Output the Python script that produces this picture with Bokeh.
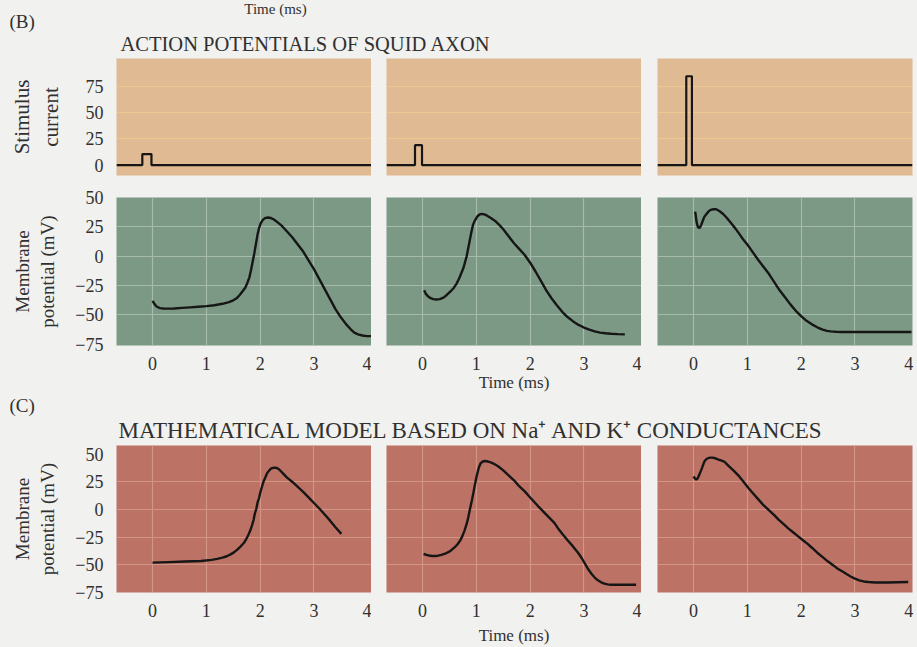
from bokeh.plotting import figure
from bokeh.layouts import column, row
from bokeh.models import Range1d, FixedTicker, Label
from bokeh.embed import file_html
from bokeh.resources import INLINE

# ---------------- data ----------------
time_ticks = [0, 1, 2, 3, 4]
stim_ticks = [0, 25, 50, 75]
mv_ticks = [-75, -50, -25, 0, 25, 50]

# stimulus current traces (step pulses)
stim1_t = [-0.67, -0.19, -0.19, -0.02, -0.02, 4.07]
stim1_i = [0, 0, 10.5, 10.5, 0, 0]
stim2_t = [-0.67, -0.14, -0.14, -0.01, -0.01, 4.07]
stim2_i = [0, 0, 19, 19, 0, 0]
stim3_t = [-0.67, -0.135, -0.135, -0.03, -0.03, 4.07]
stim3_i = [0, 0, 85, 85, 0, 0]

# recorded squid axon action potentials (mV)
axon1_t = [0.00, 0.04, 0.08, 0.14, 0.2, 0.3, 0.4, 0.55, 0.7, 0.85, 1.0, 1.15, 1.3, 1.42, 1.5, 1.57,
           1.62, 1.67, 1.72, 1.76, 1.8, 1.83, 1.86, 1.89, 1.92, 1.95, 1.98, 2.01, 2.05, 2.09,
           2.14, 2.2, 2.25, 2.32, 2.4, 2.5, 2.6, 2.7, 2.8, 2.9, 3.0, 3.1, 3.2, 3.3, 3.4,
           3.5, 3.6, 3.68, 3.75, 3.82, 3.9, 3.98, 4.07]
axon1_v = [-38, -41, -43, -44.2, -44.5, -44.6, -44.5, -44, -43.5, -43, -42.5, -41.7, -40.5, -39, -37.5, -35.5,
           -33, -30, -27, -23, -18, -12, -5, 2, 10, 18, 24, 28, 31, 32.5,
           33, 32.5, 31.5, 29, 26, 21, 16, 10, 4, -3.5, -11, -19.5, -28, -36.5, -45,
           -52, -58, -62, -65, -66.5, -67.5, -68, -68]
axon2_t = [0.03, 0.06, 0.1, 0.15, 0.2, 0.26, 0.32, 0.39, 0.45, 0.52, 0.58, 0.63, 0.68, 0.72, 0.76,
           0.79, 0.82, 0.85, 0.88, 0.91, 0.94, 0.98, 1.02, 1.06, 1.1, 1.15, 1.2, 1.27, 1.35,
           1.42, 1.5, 1.6, 1.7, 1.8, 1.9, 2.0, 2.1, 2.2, 2.3, 2.4, 2.5, 2.6, 2.7, 2.8, 2.9,
           3.0, 3.1, 3.2, 3.3, 3.4, 3.5, 3.63, 3.76]
axon2_v = [-29, -32, -34, -35.7, -36.5, -36.8, -36.5, -35.2, -33, -30, -27, -23.5, -19, -14.5, -10,
           -5, 0, 7, 14, 21, 27, 31, 34, 35.5, 36, 35.6, 34.5, 32.5, 30,
           27, 23, 17, 11, 6, 1, -5.5, -13, -21, -29, -36, -42, -47.5, -52, -55.5, -58.5,
           -60.7, -62.5, -64, -65, -65.6, -66, -66.3, -66.5]
axon3_t = [0.03, 0.04, 0.05, 0.065, 0.08, 0.1, 0.12, 0.145, 0.17, 0.2, 0.24, 0.28, 0.32, 0.37,
           0.42, 0.48, 0.55, 0.62, 0.7, 0.78, 0.85, 0.92, 1.0, 1.1, 1.2, 1.3, 1.4, 1.5, 1.6,
           1.7, 1.8, 1.9, 2.0, 2.1, 2.2, 2.3, 2.4, 2.48, 2.55, 2.65, 2.75, 3.0, 3.5, 4.05]
axon3_v = [38, 35, 31, 27.5, 25, 24, 24.5, 27, 30, 33.5, 36, 38.2, 39.5, 40,
           40, 38.5, 36, 32.5, 28, 23.5, 19, 14.5, 10, 3.5, -3, -9, -15, -22, -29,
           -35, -41, -46.5, -51, -55, -58, -60.5, -62.5, -63.5, -64, -64.3, -64.5, -64.5, -64.5, -64.5]

# Hodgkin-Huxley model action potentials (mV)
model1_t = [0.0, 0.3, 0.6, 0.9, 1.1, 1.2, 1.3, 1.38, 1.45, 1.52, 1.58, 1.64, 1.7, 1.74, 1.78,
            1.82, 1.85, 1.88, 1.9, 1.93, 1.95, 1.98, 2.0, 2.03, 2.06, 2.1, 2.13, 2.17, 2.2,
            2.24, 2.27, 2.31, 2.35, 2.42, 2.5, 2.6, 2.7, 2.8, 2.9, 3.0, 3.1, 3.2, 3.3, 3.4, 3.51]
model1_v = [-48, -47.5, -47, -46.5, -45.5, -44.6, -43.5, -42.2, -40.5, -38.5, -36, -33.2, -30, -26.8, -23,
            -18.5, -14, -9, -4, 1, 6, 10.5, 15, 20, 25, 29.5, 33, 35.5, 37,
            37.8, 38, 37.6, 36.5, 33, 29, 25, 20.5, 16, 11, 6, 1, -4.5, -10, -16, -22]
model2_t = [0.02, 0.07, 0.12, 0.18, 0.23, 0.29, 0.35, 0.42, 0.48, 0.54, 0.6, 0.65, 0.7, 0.74, 0.78,
            0.82, 0.85, 0.88, 0.92, 0.95, 0.98, 1.0, 1.03, 1.05, 1.08, 1.12, 1.16, 1.22, 1.28,
            1.35, 1.41, 1.5, 1.6, 1.7, 1.78, 1.9, 2.0, 2.15, 2.25, 2.35, 2.45, 2.52, 2.6, 2.7,
            2.8, 2.89, 2.96, 3.02, 3.08, 3.14, 3.2, 3.26, 3.32, 3.38, 3.44, 3.5, 3.63, 3.8, 3.97]
model2_v = [-40, -41, -41.5, -42, -42, -41.7, -41, -39.8, -38.5, -36.5, -34, -31.3, -28, -24, -19,
            -13, -7, 0, 9, 16.5, 24, 29, 35, 38.5, 42, 43.5, 44, 43.5, 42.5,
            40.8, 39, 35.5, 31, 26.5, 22, 16.5, 11, 3, -2, -7, -12, -17, -22, -28,
            -33.5, -39, -44, -49, -54, -58, -61.5, -64, -65.8, -67, -67.6, -68, -68, -68, -68]
model3_t = [0.0, 0.02, 0.05, 0.08, 0.11, 0.14, 0.16, 0.2, 0.24, 0.27, 0.31, 0.35, 0.4, 0.45, 0.51,
            0.57, 0.65, 0.75, 0.85, 0.94, 1.02, 1.1, 1.2, 1.3, 1.4, 1.5, 1.58, 1.67, 1.76, 1.85,
            1.95, 2.04, 2.12, 2.2, 2.3, 2.4, 2.5, 2.6, 2.68, 2.77, 2.85, 2.92, 3.0, 3.08, 3.16,
            3.25, 3.38, 3.6, 3.8, 3.99]
model3_v = [30, 28.5, 27, 28.5, 32, 35.5, 38, 43.5, 45.8, 46.5, 47, 47, 46.5, 45.5, 44.5,
            43.5, 39.5, 35, 30, 24.5, 19.5, 15, 9.5, 4, -0.5, -5, -9, -13, -17, -20.5,
            -24.5, -28, -31, -34.5, -39, -43, -47, -50.5, -53.5, -56, -58.5, -60.5, -62.5, -64, -65,
            -65.5, -66, -66, -65.7, -65.5]

# ---------------- style ----------------
PAGE = "#f1f1ef"
TEXT = "#303030"
FONT = "Liberation Serif"
STIM_BG, STIM_GRID = "#dfba92", "#ecc98e"
AXON_BG, AXON_GRID = "#7c9985", "#a6bbaa"
MODEL_BG, MODEL_GRID = "#bc7264", "#d39686"
TRACE = "#161616"

X_RANGE = (-0.67, 4.07)
STIM_YR = (-10, 102)
AXON_YR = (-76, 50)
MODEL_YR = (-75, 58)

minus = lambda v: str(v).replace("-", "\u2212")


def panel(width, height, yr, bl, br, bt, bb, bg, grid_col, xgrid=True):
    p = figure(width=width, height=height, x_range=Range1d(*X_RANGE), y_range=Range1d(*yr),
               output_backend="svg", toolbar_location=None,
               min_border_left=bl, min_border_right=br, min_border_top=bt, min_border_bottom=bb)
    p.background_fill_color = bg
    p.border_fill_color = PAGE
    p.outline_line_color = None
    for ax in p.axis:
        ax.major_tick_line_color = None
        ax.minor_tick_line_color = None
        ax.axis_line_color = None
        ax.major_label_text_font = FONT
        ax.major_label_text_font_size = "18px"
        ax.major_label_text_color = TEXT
        ax.axis_label_text_font = FONT
        ax.axis_label_text_font_style = "normal"
        ax.axis_label_text_color = TEXT
    p.xaxis.ticker = FixedTicker(ticks=time_ticks)
    p.xaxis.major_label_standoff = 5
    p.yaxis.major_label_standoff = 7
    p.ygrid.grid_line_color = grid_col
    p.ygrid.grid_line_width = 1.2
    p.xgrid.grid_line_color = grid_col if xgrid else None
    p.xgrid.grid_line_width = 1.2
    p.xgrid.ticker = FixedTicker(ticks=[0, 1, 2, 3])
    return p


def header(height, labels):
    h = figure(width=917, height=height, x_range=Range1d(0, 917), y_range=Range1d(height, 0),
               output_backend="svg", toolbar_location=None, x_axis_type=None, y_axis_type=None,
               min_border_left=0, min_border_right=0, min_border_top=0, min_border_bottom=0)
    h.background_fill_color = PAGE
    h.border_fill_color = PAGE
    h.outline_line_color = None
    h.xgrid.grid_line_color = None
    h.ygrid.grid_line_color = None
    for (x, y, txt, size, align, base) in labels:
        h.add_layout(Label(x=x, y=y, text=txt, text_font=FONT, text_font_size=size,
                           text_color=TEXT, text_align=align, text_baseline=base))
    return h


W = [371, 270, 276]
BL = [116, 15, 16]
BR = [0, 0, 5]

# header (B)
head_b = header(58, [(275, 0, "Time (ms)", "15px", "center", "top"),
                     (9, 21, "(B)", "19px", "left", "middle"),
                     (120, 43, "ACTION POTENTIALS OF SQUID AXON", "20.5px", "left", "middle")])

# stimulus row
stim_row = []
for k, (tt, ii) in enumerate([(stim1_t, stim1_i), (stim2_t, stim2_i), (stim3_t, stim3_i)]):
    p = panel(W[k], 129, STIM_YR, BL[k], BR[k], 0, 12, STIM_BG, STIM_GRID, xgrid=False)
    p.ygrid.ticker = FixedTicker(ticks=[25, 50, 75])
    p.xaxis.visible = False
    p.yaxis.ticker = FixedTicker(ticks=stim_ticks)
    if k == 0:
        p.yaxis.axis_label = "Stimulus\ncurrent"
        p.yaxis.axis_label_text_font_size = "21px"
        p.yaxis.axis_label_standoff = 20
    else:
        p.yaxis.visible = False
    p.line(tt, ii, line_color=TRACE, line_width=2.2)
    stim_row.append(p)

# recorded membrane potential row
axon_row = []
for k, (tt, vv) in enumerate([(axon1_t, axon1_v), (axon2_t, axon2_v), (axon3_t, axon3_v)]):
    p = panel(W[k], 207, AXON_YR, BL[k], BR[k], 10, 42, AXON_BG, AXON_GRID)
    p.ygrid.ticker = FixedTicker(ticks=[-50, -25, 0, 25])
    p.yaxis.ticker = FixedTicker(ticks=mv_ticks)
    p.yaxis.major_label_overrides = {v: minus(v) for v in mv_ticks}
    if k == 0:
        p.yaxis.axis_label = "Membrane\npotential (mV)"
        p.yaxis.axis_label_text_font_size = "19px"
        p.yaxis.axis_label_standoff = 14
    else:
        p.yaxis.visible = False
    if k == 1:
        p.xaxis.axis_label = "Time (ms)"
        p.xaxis.axis_label_text_font_size = "17px"
        p.xaxis.axis_label_standoff = 0
    p.line(tt, vv, line_color=TRACE, line_width=2.4)
    axon_row.append(p)

# header (C)
head_c = header(48, [(9, 11, "(C)", "19px", "left", "middle"),
                     (118, 48, "MATHEMATICAL MODEL BASED ON Na\u207a AND K\u207a CONDUCTANCES",
                      "23px", "left", "bottom")])

# model row
model_row = []
for k, (tt, vv) in enumerate([(model1_t, model1_v), (model2_t, model2_v), (model3_t, model3_v)]):
    p = panel(W[k], 205, MODEL_YR, BL[k], BR[k], 3, 55, MODEL_BG, MODEL_GRID)
    p.ygrid.ticker = FixedTicker(ticks=[-50, -25, 0, 25])
    p.yaxis.ticker = FixedTicker(ticks=mv_ticks)
    p.yaxis.major_label_overrides = {v: minus(v) for v in mv_ticks}
    if k == 0:
        p.yaxis.axis_label = "Membrane\npotential (mV)"
        p.yaxis.axis_label_text_font_size = "19px"
        p.yaxis.axis_label_standoff = 14
    else:
        p.yaxis.visible = False
    if k == 1:
        p.xaxis.axis_label = "Time (ms)"
        p.xaxis.axis_label_text_font_size = "17px"
        p.xaxis.axis_label_standoff = 6
    p.line(tt, vv, line_color=TRACE, line_width=2.4)
    model_row.append(p)

layout = column(head_b, row(*stim_row), row(*axon_row), head_c, row(*model_row))
layout.background = PAGE

open("out.html", "w").write(file_html(layout, INLINE))
